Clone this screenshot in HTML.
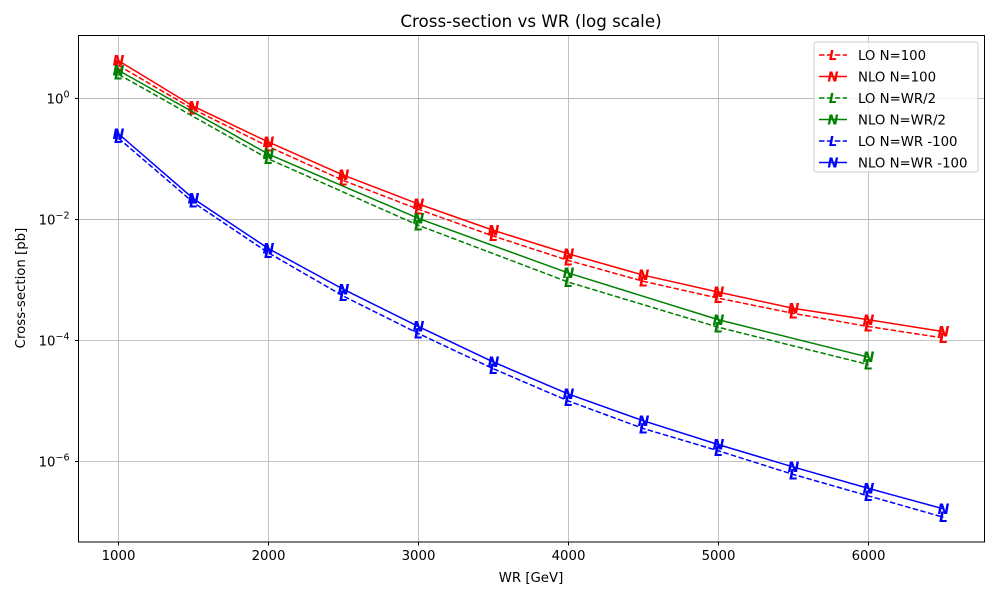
<!DOCTYPE html>
<html><head><meta charset="utf-8"><style>
body{margin:0;background:#fff;}
svg text{font-family:"DejaVu Sans","Liberation Sans",sans-serif;}
</style></head><body>
<svg id="chart" width="1000" height="600" xmlns="http://www.w3.org/2000/svg">
<rect width="1000" height="600" fill="#fff"/>
<g id="grid"></g>
<g id="series"></g>
<rect x="78.5" y="35.5" width="906" height="506.5" fill="none" stroke="#000" stroke-width="1"/>
<g id="ticks"></g>
<text x="531" y="27" font-size="16.7" text-anchor="middle">Cross-section vs WR (log scale)</text>
<text x="531" y="582" font-size="13.3" text-anchor="middle">WR [GeV]</text>
<text transform="translate(25,288) rotate(-90)" font-size="13.3" text-anchor="middle">Cross-section [pb]</text>
<g id="legend"></g>
</svg>
<script>
const wrAll = [1000,1500,2000,2500,3000,3500,4000,4500,5000,5500,6000,6500];
const wrGreen = [1000,2000,3000,4000,5000,6000];
const loN100 = [3.5,0.66,0.16,0.044,0.0147,0.0053,0.0021,9.5e-4,5e-4,2.8e-4,1.7e-4,1.1e-4];
const nloN100 = [4.2,0.74,0.19,0.054,0.018,0.0066,0.0027,0.0012,6.3e-4,3.4e-4,2.2e-4,1.4e-4];
const loHalf = [2.5,0.1,0.008,9.2e-4,1.65e-4,4e-5];
const nloHalf = [2.9,0.12,0.0104,0.0013,2.2e-4,5.3e-5];
const loWRm = [0.22,0.019,0.0028,5.4e-4,1.3e-4,3.4e-5,1.0e-5,3.5e-6,1.5e-6,6.1e-7,2.7e-7,1.2e-7];
const nloWRm = [0.26,0.022,0.0033,7e-4,1.7e-4,4.4e-5,1.3e-5,4.7e-6,1.9e-6,8.1e-7,3.6e-7,1.65e-7];
const xTicks = [1000,2000,3000,4000,5000,6000];
const yTickExp = [0,-2,-4,-6];
const seriesNames = ["LO N=100","NLO N=100","LO N=WR/2","NLO N=WR/2","LO N=WR -100","NLO N=WR -100"];

const NS="http://www.w3.org/2000/svg";
const X0=78.5,X1=984.5,Y0=35.5,Y1=542;
const xMin=733.3,xMax=6773.3,lMin=-7.33,lMax=1.04;
const xs=v=>X0+(v-xMin)/(xMax-xMin)*(X1-X0);
const ys=v=>Y1-(Math.log10(v)-lMin)/(lMax-lMin)*(Y1-Y0);
function mk(tag,attrs,parent){const e=document.createElementNS(NS,tag);for(const k in attrs)e.setAttribute(k,attrs[k]);parent.appendChild(e);return e;}
const grid=document.getElementById('grid'),ticks=document.getElementById('ticks'),ser=document.getElementById('series'),leg=document.getElementById('legend');
xTicks.forEach(t=>{const x=xs(t);
 const g=mk('line',{x1:x,x2:x,y1:Y0,y2:Y1,stroke:'#b0b0b0','stroke-width':0.8},grid);
 
 mk('line',{x1:x,x2:x,y1:Y1,y2:Y1+3.5,stroke:'#000'},ticks);
 const tx=mk('text',{x:x,y:Y1+18,'font-size':13.3,'text-anchor':'middle'},ticks);tx.textContent=t;
 });
yTickExp.forEach(e=>{const y=ys(Math.pow(10,e));
 const g=mk('line',{x1:X0,x2:X1,y1:y,y2:y,stroke:'#b0b0b0','stroke-width':0.8},grid);
 
 mk('line',{x1:X0-3.5,x2:X0,y1:y,y2:y,stroke:'#000'},ticks);
 const tx=mk('text',{x:X0-9,y:y+5,'font-size':13.3,'text-anchor':'end'},ticks);
 
 const a=mk('tspan',{},tx);a.textContent='10';
 const b=mk('tspan',{dy:-6,'font-size':9.5},tx);b.textContent=e===0?'0':'\u2212'+(-e);});
const defs=[[wrAll,loN100,'red',true,'L'],[wrAll,nloN100,'red',false,'N'],[wrGreen,loHalf,'green',true,'L'],[wrGreen,nloHalf,'green',false,'N'],[wrAll,loWRm,'blue',true,'L'],[wrAll,nloWRm,'blue',false,'N']];
defs.forEach((d,i)=>{const [xv,yv,c,dash,m]=d;
 const g=mk('g',{},ser);
 const p=mk('polyline',{points:xv.map((x,j)=>xs(x)+','+ys(yv[j])).join(' '),fill:'none',stroke:c,'stroke-width':1.5,'stroke-dasharray':dash?'5.5,2.4':'none'},g);
 
 xv.forEach((x,j)=>{const t=mk('text',{x:xs(x),y:ys(yv[j])+5,'font-size':14,'font-style':'italic','font-weight':'bold',fill:c,'text-anchor':'middle'},g);t.textContent=m;
  });
 const ly=55+i*21.5;
 const lg=mk('g',{},leg);
 mk('line',{x1:819,x2:847,y1:ly,y2:ly,stroke:c,'stroke-width':1.5,'stroke-dasharray':dash?'5.5,2.4':'none'},lg);
 const lm=mk('text',{x:833,y:ly+5,'font-size':13,'font-style':'italic','font-weight':'bold',fill:c,'text-anchor':'middle'},lg);lm.textContent=m;
 const lt=mk('text',{x:858,y:ly+5,'font-size':13.3},lg);lt.textContent=seriesNames[i];});
const box=mk('rect',{x:814,y:42,width:164,height:130,rx:2,fill:'#fff','fill-opacity':0.8,stroke:'#ccc'},leg);
leg.insertBefore(box,leg.firstChild);

</script>
</body></html>
